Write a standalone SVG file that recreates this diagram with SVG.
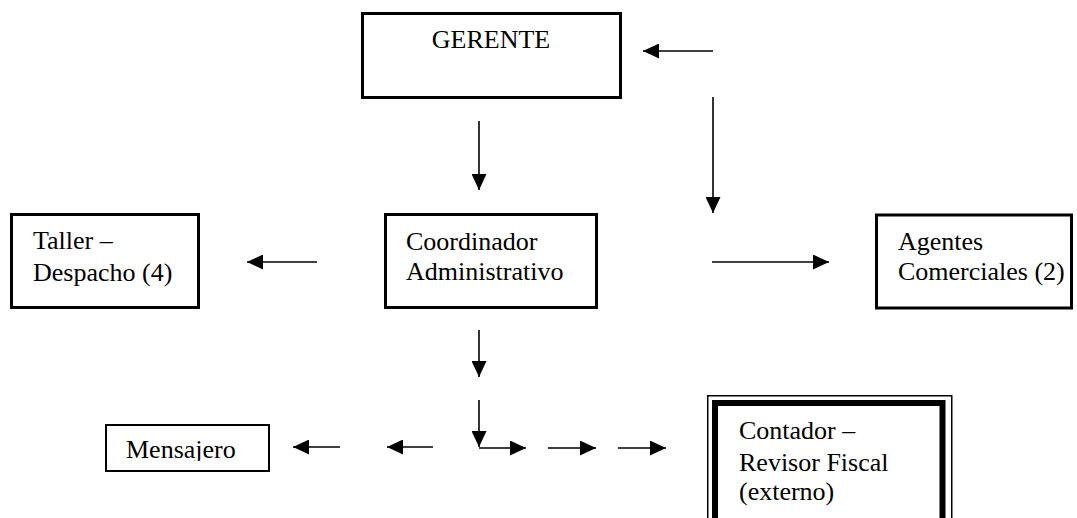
<svg xmlns="http://www.w3.org/2000/svg" width="1077" height="518" viewBox="0 0 1077 518">
<style>
.box{fill:#fff;stroke:#000;stroke-width:3}
.t{font-family:"Liberation Serif","Times New Roman",serif;font-size:26px;fill:#000}
.c{stroke:#000;stroke-width:1.6;fill:none;marker-end:url(#ah)}
</style>
<defs>
<marker id="ah" markerUnits="userSpaceOnUse" markerWidth="16" markerHeight="15" refX="16" refY="7.5" orient="auto">
<path d="M0,0 L16,7.5 L0,15 z" fill="#000"/>
</marker>
<clipPath id="mclip"><rect x="100" y="420" width="180" height="41"/></clipPath>
</defs>
<rect width="1077" height="518" fill="#fff"/>
<g id="gerente">
<rect class="box" x="362.5" y="13.5" width="258" height="84"/>
<text class="t" x="491" y="48" text-anchor="middle">GERENTE</text>
</g>
<g id="taller">
<rect class="box" x="11.5" y="214.5" width="187" height="93"/>
<text class="t" x="33" y="249">Taller –</text>
<text class="t" x="33" y="281">Despacho (4)</text>
</g>
<g id="coordinador">
<rect class="box" x="385.5" y="214.5" width="211" height="93"/>
<text class="t" x="406" y="250">Coordinador</text>
<text class="t" x="406" y="280">Administrativo</text>
</g>
<g id="agentes">
<rect class="box" x="876.5" y="215" width="195" height="93"/>
<text class="t" x="898" y="250">Agentes</text>
<text class="t" x="898" y="280">Comerciales (2)</text>
</g>
<g id="mensajero">
<rect x="106" y="425" width="163" height="46" fill="#fff" stroke="#000" stroke-width="2"/>
<text class="t" x="126" y="458" clip-path="url(#mclip)">Mensajero</text>
</g>
<g id="contador">
<rect x="707.75" y="395.75" width="244" height="200" fill="#fff" stroke="#000" stroke-width="1.5"/>
<rect x="715" y="403" width="227.5" height="190" fill="none" stroke="#000" stroke-width="6"/>
<text class="t" x="739" y="439">Contador –</text>
<text class="t" x="739" y="471">Revisor Fiscal</text>
<text class="t" x="739" y="500">(externo)</text>
</g>
<g id="connectors">
<line class="c" x1="713" y1="51" x2="643" y2="51"/>
<line class="c" x1="479" y1="121" x2="479" y2="190"/>
<line class="c" x1="713" y1="97" x2="713" y2="213"/>
<line class="c" x1="317" y1="262" x2="247" y2="262"/>
<line class="c" x1="712" y1="262" x2="829" y2="262"/>
<line class="c" x1="479" y1="330" x2="479" y2="377"/>
<line class="c" x1="479" y1="400" x2="479" y2="447"/>
<line class="c" x1="479" y1="448" x2="526" y2="448"/>
<line class="c" x1="548" y1="448" x2="596" y2="448"/>
<line class="c" x1="618" y1="448" x2="666" y2="448"/>
<line class="c" x1="340" y1="447" x2="293" y2="447"/>
<line class="c" x1="433" y1="447" x2="387" y2="447"/>
</g>
</svg>
